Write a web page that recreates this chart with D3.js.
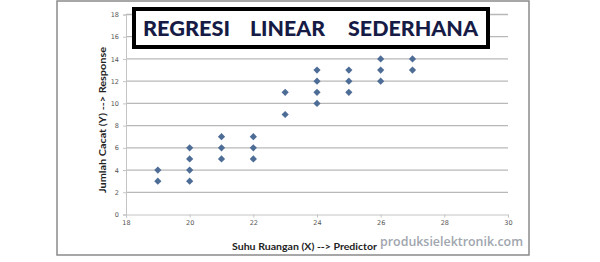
<!DOCTYPE html>
<html>
<head>
<meta charset="utf-8">
<script src="https://cdn.jsdelivr.net/npm/d3@7"></script>
<style>
  html, body { margin: 0; padding: 0; background: #fff; }
  svg { display: block; }
</style>
</head>
<body>
<div id="chart"></div>
<script>
// data
const suhu   = [19, 19, 20, 20, 20, 20, 21, 21, 21, 22, 22, 22, 23, 23, 24, 24, 24, 24, 25, 25, 25, 26, 26, 26, 27, 27];
const cacat  = [3, 4, 3, 4, 5, 6, 5, 6, 7, 5, 6, 7, 9, 11, 10, 11, 12, 13, 11, 12, 13, 12, 13, 14, 13, 14];
const xTicks = [18, 20, 22, 24, 26, 28, 30];
const yTicks = [0, 2, 4, 6, 8, 10, 12, 14, 16, 18];
const titleWords = ["REGRESI", "LINEAR", "SEDERHANA"];

const width = 600, height = 262;
const plot = { left: 126, right: 508, top: 14.5, bottom: 214.5 };

const svg = d3.select("#chart").append("svg")
    .attr("width", width)
    .attr("height", height);

// outer chart frame
svg.append("rect")
    .attr("x", 57).attr("y", 1)
    .attr("width", 472).attr("height", 254)
    .attr("fill", "#fff")
    .attr("stroke", "#8a8a8a")
    .attr("stroke-width", 1.5);

const x = d3.scaleLinear().domain([18, 30]).range([plot.left, plot.right]);
const y = d3.scaleLinear().domain([0, 18]).range([plot.bottom, plot.top]);

// gridlines
svg.append("g")
    .selectAll("line")
    .data(yTicks.filter(d => d > 0))
    .join("line")
    .attr("x1", plot.left).attr("x2", plot.right)
    .attr("y1", d => y(d)).attr("y2", d => y(d))
    .attr("stroke", "#b8b8b8")
    .attr("stroke-width", 1.3);

// axes
const yAxis = svg.append("g")
    .attr("transform", `translate(${plot.left},0)`)
    .call(d3.axisLeft(y).tickValues(yTicks).tickSize(3).tickPadding(4));
const xAxis = svg.append("g")
    .attr("transform", `translate(0,${plot.bottom})`)
    .call(d3.axisBottom(x).tickValues(xTicks).tickSize(3).tickPadding(3));

[yAxis, xAxis].forEach(g => {
    g.select(".domain").attr("stroke", "#c4c4c4");
    g.selectAll(".tick line").attr("stroke", "#c4c4c4");
    g.selectAll("text")
        .attr("fill", "#555")
        .style("font-family", "'DejaVu Sans', sans-serif")
        .style("font-size", "6.5px");
});

// points
svg.append("g")
    .selectAll("path")
    .data(suhu.map((d, i) => [d, cacat[i]]))
    .join("path")
    .attr("d", d3.symbol(d3.symbolSquare, 26))
    .attr("transform", d => `translate(${x(d[0])},${y(d[1])}) rotate(45)`)
    .attr("fill", "#4e6d96");

// axis titles
svg.append("text")
    .attr("transform", `translate(106,120) rotate(-90)`)
    .attr("text-anchor", "middle")
    .attr("textLength", 146)
    .attr("lengthAdjust", "spacingAndGlyphs")
    .style("font-family", "Lato, 'Open Sans', sans-serif")
    .style("font-weight", "bold")
    .style("font-size", "10px")
    .attr("fill", "#222")
    .text("Jumlah Cacat (Y) --> Response");

svg.append("text")
    .attr("x", 232).attr("y", 250)
    .attr("textLength", 145)
    .attr("lengthAdjust", "spacingAndGlyphs")
    .style("font-family", "Lato, 'Open Sans', sans-serif")
    .style("font-weight", "bold")
    .style("font-size", "10px")
    .attr("fill", "#222")
    .text("Suhu Ruangan (X) --> Predictor");

// watermark
svg.append("text")
    .attr("x", 380).attr("y", 246)
    .attr("textLength", 143)
    .attr("lengthAdjust", "spacingAndGlyphs")
    .style("font-family", "'Open Sans', sans-serif")
    .style("font-weight", 600)
    .style("font-size", "13px")
    .attr("fill", "#a0a6ae")
    .text("produksielektronik.com");

// title box
svg.append("rect")
    .attr("x", 134).attr("y", 9)
    .attr("width", 354).attr("height", 38)
    .attr("fill", "#fff")
    .attr("stroke", "#000")
    .attr("stroke-width", 4);

const wordX = [143, 250, 348];
const wordW = [87, 75, 130];
svg.append("g")
    .selectAll("text")
    .data(titleWords)
    .join("text")
    .attr("x", (d, i) => wordX[i])
    .attr("y", 36)
    .attr("textLength", (d, i) => wordW[i])
    .attr("lengthAdjust", "spacingAndGlyphs")
    .style("font-family", "Lato, 'Open Sans', sans-serif")
    .style("font-weight", 900)
    .style("font-size", "21px")
    .attr("fill", "#161b45")
    .text(d => d);
</script>
</body>
</html>
